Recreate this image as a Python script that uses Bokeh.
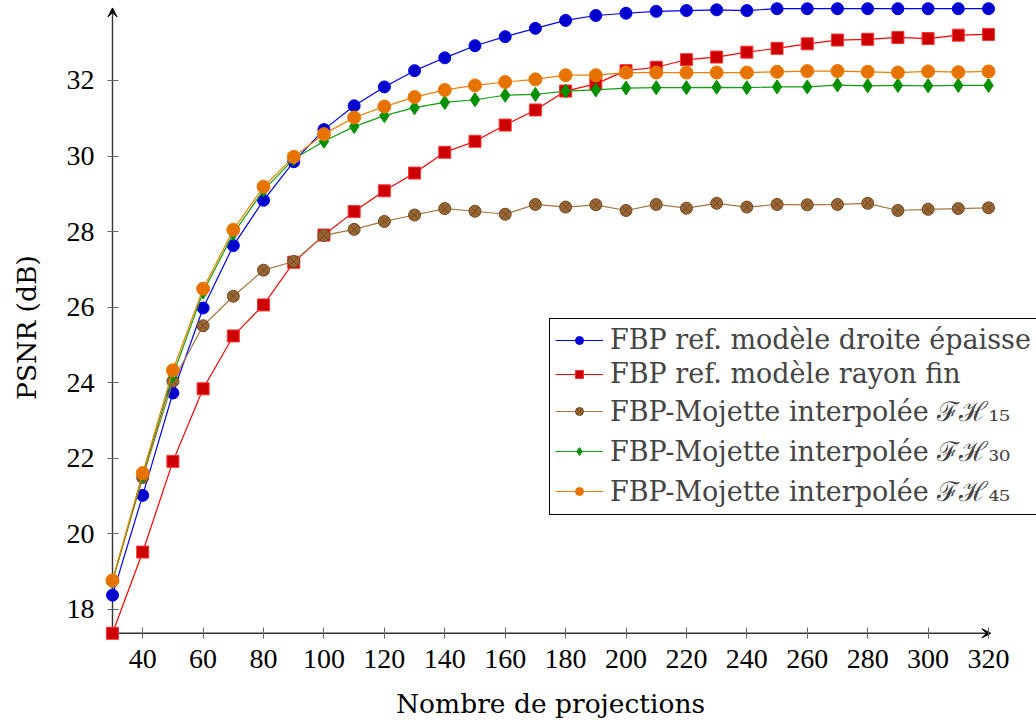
import math
from bokeh.plotting import figure
from bokeh.models import (Range1d, FixedTicker, Legend, LegendItem, Arrow, VeeHead,
                          LinearAxis, Label)
from bokeh.embed import file_html
from bokeh.resources import INLINE

# ---------------- data ----------------
projections = [30, 40, 50, 60, 70, 80, 90, 100, 110, 120, 130, 140, 150, 160, 170,
               180, 190, 200, 210, 220, 230, 240, 250, 260, 270, 280, 290, 300, 310, 320]

psnr_droite_epaisse = [18.38, 21.02, 23.73, 25.98, 27.63, 28.83, 29.85, 30.70, 31.33, 31.83,
                       32.26, 32.60, 32.92, 33.16, 33.38, 33.59, 33.72, 33.78, 33.83, 33.85,
                       33.87, 33.85, 33.90, 33.90, 33.90, 33.90, 33.90, 33.90, 33.90, 33.90]

psnr_rayon_fin = [17.37, 19.52, 21.92, 23.84, 25.24, 26.06, 27.19, 27.91, 28.53, 29.08,
                  29.55, 30.10, 30.39, 30.82, 31.22, 31.72, 31.91, 32.26, 32.35, 32.55,
                  32.62, 32.75, 32.85, 32.97, 33.07, 33.09, 33.14, 33.11, 33.20, 33.22]

psnr_fh15 = [18.75, 21.49, 24.04, 25.51, 26.29, 26.98, 27.21, 27.90, 28.06, 28.27,
             28.44, 28.61, 28.54, 28.46, 28.72, 28.65, 28.71, 28.56, 28.72, 28.62,
             28.75, 28.65, 28.72, 28.71, 28.72, 28.75, 28.56, 28.59, 28.61, 28.63]

psnr_fh30 = [18.75, 21.55, 24.20, 26.40, 27.95, 29.10, 29.92, 30.39, 30.78, 31.07,
             31.28, 31.42, 31.49, 31.61, 31.63, 31.72, 31.75, 31.80, 31.81, 31.81,
             31.82, 31.81, 31.83, 31.83, 31.88, 31.86, 31.87, 31.86, 31.87, 31.87]

psnr_fh45 = [18.77, 21.61, 24.33, 26.49, 28.05, 29.19, 29.98, 30.58, 31.02, 31.31,
             31.56, 31.75, 31.87, 31.96, 32.03, 32.14, 32.14, 32.21, 32.21, 32.21,
             32.21, 32.21, 32.23, 32.25, 32.25, 32.23, 32.21, 32.24, 32.22, 32.24]

series_labels = [
    "FBP ref. modèle droite épaisse",
    "FBP ref. modèle rayon fin",
    "FBP-Mojette interpolée \u2131\u210b\u2081\u2085",
    "FBP-Mojette interpolée \u2131\u210b\u2083\u2080",
    "FBP-Mojette interpolée \u2131\u210b\u2084\u2085",
]

x_ticks = [40, 60, 80, 100, 120, 140, 160, 180, 200, 220, 240, 260, 280, 300, 320]
y_ticks = [18, 20, 22, 24, 26, 28, 30, 32]

x_title = "Nombre de projections"
y_title = "PSNR (dB)"

# ---------------- styles ----------------
all_series = [psnr_droite_epaisse, psnr_rayon_fin, psnr_fh15, psnr_fh30, psnr_fh45]
styles = [
    dict(line="#0000ff", fill="#0000cc", mline="#0000ff", marker="circle", size=12),
    dict(line="#ff0000", fill="#cc0000", mline="#ff3333", marker="square", size=12),
    dict(line="#a87440", fill="#996633", mline="#6e4a24", marker="circle_x", size=12),
    dict(line="#11a011", fill="#009000", mline="#009000", marker="diamond", size=14),
    dict(line="#f08000", fill="#e67300", mline="#ee7a00", marker="circle", size=13),
]

TEXT_FONT = "DejaVu Serif"
NUM_FONT = "Liberation Serif"

y_min = min(min(s) for s in all_series)
x_min = projections[0]

# the plotting frame covers the whole canvas; axes are drawn at the data origin
p = figure(width=1036, height=727, output_backend="svg", toolbar_location=None,
           x_range=Range1d(-7.077, 335.89), y_range=Range1d(14.877, 34.117),
           min_border_left=0, min_border_right=0, min_border_top=0, min_border_bottom=0)
p.grid.visible = False
p.outline_line_color = None
p.background_fill_color = "white"
p.xaxis[0].visible = False
p.yaxis[0].visible = False

axis_style = dict(axis_line_color=None, major_tick_in=6, major_tick_out=5,
                  major_tick_line_color="#666666", major_tick_line_width=1,
                  minor_tick_line_color=None, major_label_text_font=NUM_FONT,
                  major_label_text_font_size="28px", major_label_text_color="black")

p.add_layout(LinearAxis(ticker=FixedTicker(ticks=x_ticks), fixed_location=y_min,
                        major_label_standoff=12, **axis_style), "below")
p.add_layout(LinearAxis(ticker=FixedTicker(ticks=y_ticks), fixed_location=x_min,
                        major_label_standoff=13, **axis_style), "left")

# axis titles
p.add_layout(Label(x=(projections[0] + projections[-1]) / 2, y=y_min - 1.85, text=x_title,
                   text_align="center", text_baseline="middle", text_font=TEXT_FONT,
                   text_font_size="26.5px", text_color="black"))
p.add_layout(Label(x=x_min - 28.47, y=25.46, text=y_title, angle=math.pi / 2,
                   text_align="center", text_baseline="middle", text_font=TEXT_FONT,
                   text_font_size="26.5px", text_color="black"))

# axis lines with arrow heads
p.add_layout(Arrow(x_start=x_min, y_start=y_min, x_end=projections[-1] + 0.8, y_end=y_min,
                   line_color="#333333", line_width=1.4, level="underlay",
                   end=VeeHead(size=9, line_color="black", fill_color="black", line_width=1)))
p.add_layout(Arrow(x_start=x_min, y_start=y_min, x_end=x_min, y_end=psnr_droite_epaisse[-1] + 0.02,
                   line_color="#333333", line_width=1.4, level="underlay",
                   end=VeeHead(size=9, line_color="black", fill_color="black", line_width=1)))

items = []
for vals, st, lab in zip(all_series, styles, series_labels):
    r1 = p.line(projections, vals, line_color=st["line"], line_width=1.2)
    r2 = p.scatter(projections, vals, marker=st["marker"], size=st["size"],
                   fill_color=st["fill"], line_color=st["mline"], line_width=1)
    items.append(LegendItem(label=lab, renderers=[r1, r2]))

legend = Legend(items=items, location=(549, 212), border_line_color="black",
                border_line_width=1, border_line_alpha=1, background_fill_color="white",
                background_fill_alpha=1, label_text_font=TEXT_FONT, label_text_font_size="27px",
                glyph_width=48, glyph_height=20, label_height=20, label_standoff=7,
                spacing=3, padding=5, margin=0)
p.add_layout(legend)

open("out.html", "w").write(file_html(p, INLINE))
